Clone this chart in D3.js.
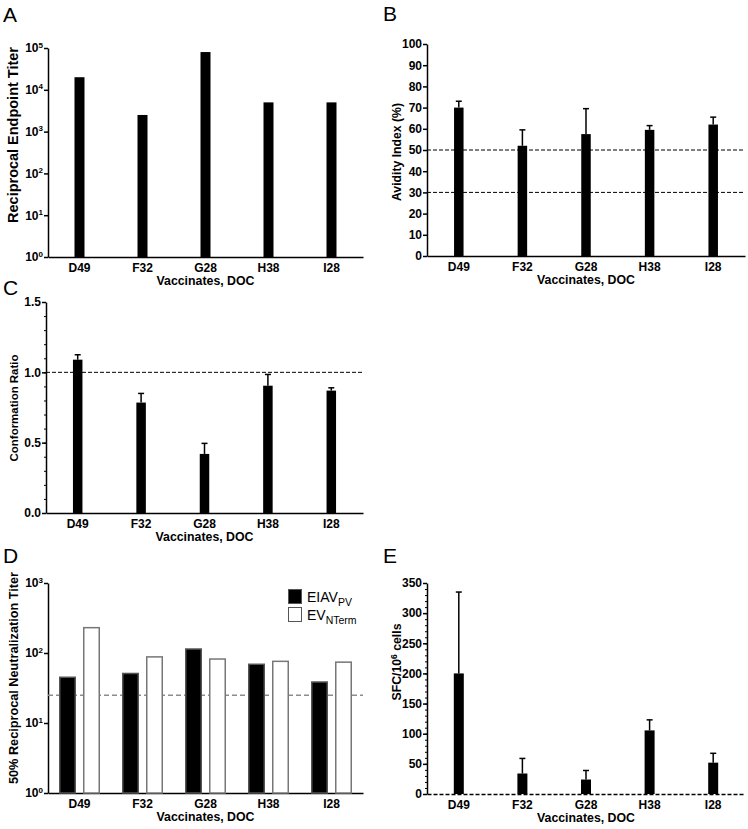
<!DOCTYPE html>
<meta charset="utf-8">
<style>
body { margin: 0; background: #fff; }
svg text { font-family: "Liberation Sans", Arial, sans-serif; fill: #000; }
.axis text { font-size: 12px; font-weight: bold; }
.axis path, .axis line { stroke: #000; stroke-width: 1.5px; }
.title { font-size: 12px; font-weight: bold; text-anchor: middle; }
.letter { font-size: 21px; }
</style>
<body>
<script src="https://d3js.org/d3.v7.min.js"></script>
<script>
// categories
var vaccinates = ["D49", "F32", "G28", "H38", "I28"];

// A: reciprocal endpoint titer
var endpointTiter = [20000, 2500, 80000, 5000, 5000];
var titerTicksA = [1, 10, 100, 1000, 10000, 100000];

// B: avidity index (%) mean and error
var avidity = [70, 52, 57.5, 59.5, 62];
var avidityErr = [3, 7.5, 12, 2, 3.5];
var avidityTicks = [0, 10, 20, 30, 40, 50, 60, 70, 80, 90, 100];
var avidityLines = [50, 30];

// C: conformation ratio
var conformation = [1.09, 0.785, 0.42, 0.905, 0.87];
var conformationErr = [0.035, 0.065, 0.075, 0.08, 0.02];
var conformationTicks = [0, 0.5, 1.0, 1.5];
var conformationLine = [1.0];

// D: 50% neutralization titer
var neutEIAV = [45, 51, 114, 69, 38.5];
var neutEVNTerm = [230, 88, 82, 76, 74];
var neutTicks = [1, 10, 100, 1000];
var neutCutoff = 25;

// E: SFC per 10^6 cells
var sfc = [200, 34, 24, 105.5, 52];
var sfcErr = [135, 25, 15, 17.5, 15.5];
var sfcTicks = [0, 50, 100, 150, 200, 250, 300, 350];

var svg = d3.select("body").append("svg")
    .attr("width", 748)
    .attr("height", 829);

// draw "10^n" labels on log axes
function powerLabels(g) {
  g.selectAll(".tick text").each(function(d) {
    var t = d3.select(this).text("");
    t.append("tspan").text("10");
    t.append("tspan")
      .attr("dy", "-0.6em")
      .style("font-size", "8px")
      .text(Math.round(Math.log10(d)));
  });
}

// scale a text's font so it spans about the given length
function fitText(t, len) {
  var l = t.node().getComputedTextLength();
  if (l > 0) t.style("font-size", (12 * len / l).toFixed(2) + "px");
}

function panel(o) {
  var g = svg.append("g");
  var x = d3.scaleBand().domain(vaccinates).range([o.x0, o.x1]);
  var y = o.log ? d3.scaleLog().domain(o.domain).range([o.yb, o.yt])
                : d3.scaleLinear().domain(o.domain).range([o.yb, o.yt]);

  // minor ticks first
  if (o.minor) {
    g.append("g").attr("class", "axis")
      .attr("transform", "translate(" + o.x0 + ",0)")
      .call(d3.axisLeft(y).tickValues(o.minor).tickSize(2).tickSizeOuter(0).tickFormat(""))
      .call(function(a) { a.select(".domain").remove(); a.selectAll("line").style("stroke-width", "1px"); });
  }

  // y axis
  var ya = g.append("g").attr("class", "axis")
    .attr("transform", "translate(" + o.x0 + ",0)")
    .call(d3.axisLeft(y).tickValues(o.ticks).tickSize(4).tickSizeOuter(0).tickPadding(1)
      .tickFormat(o.fmt || null));
  if (o.log) ya.call(powerLabels);

  // x axis
  var xa = g.append("g").attr("class", "axis")
    .attr("transform", "translate(0," + o.yb + ")")
    .call(d3.axisBottom(x).tickSize(0).tickSizeOuter(0).tickPadding(6.5));
  if (o.dashedBase) xa.select(".domain").style("stroke-dasharray", "4,2");

  // reference lines
  (o.refLines || []).forEach(function(v) {
    g.append("line")
      .attr("x1", o.x0).attr("x2", o.x1)
      .attr("y1", y(v)).attr("y2", y(v))
      .style("stroke", o.refColor || "#000")
      .style("stroke-width", o.refWidth || 1)
      .style("stroke-dasharray", o.refDash || "4,2");
  });

  // bars
  o.series.forEach(function(s) {
    g.selectAll(null).data(s.values).enter().append("rect")
      .attr("x", function(d, i) { return x(vaccinates[i]) + x.bandwidth() / 2 + s.offset - s.w / 2; })
      .attr("y", function(d) { return y(d); })
      .attr("width", s.w)
      .attr("height", function(d) { return y(o.domain[0]) - y(d); })
      .style("fill", s.fill)
      .style("stroke", s.stroke || "none")
      .style("stroke-width", s.stroke ? 1.5 : 0);

    if (s.err) {
      var eb = g.selectAll(null).data(s.values).enter().append("g");
      eb.append("line")
        .attr("x1", function(d, i) { return x(vaccinates[i]) + x.bandwidth() / 2; })
        .attr("x2", function(d, i) { return x(vaccinates[i]) + x.bandwidth() / 2; })
        .attr("y1", function(d) { return y(d); })
        .attr("y2", function(d, i) { return y(d + s.err[i]); })
        .style("stroke", "#000").style("stroke-width", 1.5);
      eb.append("line")
        .attr("x1", function(d, i) { return x(vaccinates[i]) + x.bandwidth() / 2 - 3; })
        .attr("x2", function(d, i) { return x(vaccinates[i]) + x.bandwidth() / 2 + 3; })
        .attr("y1", function(d, i) { return y(d + s.err[i]); })
        .attr("y2", function(d, i) { return y(d + s.err[i]); })
        .style("stroke", "#000").style("stroke-width", 1.5);
    }
  });

  // titles
  var xt = g.append("text").attr("class", "title")
    .attr("x", (o.x0 + o.x1) / 2).attr("y", o.yb + 28)
    .text("Vaccinates, DOC");
  fitText(xt, 98);
  var yt = g.append("text").attr("class", "title")
    .attr("transform", "translate(" + o.ytx + "," + o.ytc + ") rotate(-90)");
  o.ytitle(yt);
  fitText(yt, o.ytLen);

  svg.append("text").attr("class", "letter")
    .attr("x", o.lx).attr("y", o.ly).text(o.letter);
  return { x: x, y: y };
}

function plain(str) { return function(t) { t.text(str); }; }

// A
panel({
  letter: "A", lx: 3, ly: 22,
  x0: 48, x1: 363, yt: 48, yb: 257, log: true, domain: [1, 100000],
  ticks: titerTicksA,
  series: [{ values: endpointTiter, w: 10, offset: 0, fill: "#000" }],
  ytx: 18, ytc: 135, ytLen: 176, ytitle: plain("Reciprocal Endpoint Titer")
});

// B
panel({
  letter: "B", lx: 383, ly: 21,
  x0: 427, x1: 745, yt: 44, yb: 256, domain: [0, 100],
  ticks: avidityTicks, refLines: avidityLines,
  series: [{ values: avidity, err: avidityErr, w: 9.5, offset: 0, fill: "#000" }],
  ytx: 401, ytc: 152, ytLen: 98, ytitle: plain("Avidity Index (%)")
});

// C
panel({
  letter: "C", lx: 3, ly: 295,
  x0: 46, x1: 363, yt: 302, yb: 513, domain: [0, 1.5],
  ticks: conformationTicks, fmt: d3.format(".1f"),
  minor: d3.range(0, 16).map(function(i) { return i / 10; }),
  refLines: conformationLine,
  series: [{ values: conformation, err: conformationErr, w: 9.5, offset: 0, fill: "#000" }],
  ytx: 18, ytc: 408, ytLen: 107, ytitle: plain("Conformation Ratio")
});

// D
panel({
  letter: "D", lx: 3, ly: 563,
  x0: 48, x1: 363, yt: 583, yb: 793, log: true, domain: [1, 1000],
  ticks: neutTicks,
  refLines: [neutCutoff], refColor: "#8c8c8c", refWidth: 1.5, refDash: "5,3",
  series: [
    { values: neutEIAV, w: 15.5, offset: -12, fill: "#000", stroke: "#555" },
    { values: neutEVNTerm, w: 15.5, offset: 12, fill: "#fff", stroke: "#777" }
  ],
  ytx: 18, ytc: 678, ytLen: 212, ytitle: plain("50% Reciprocal Neutralization Titer")
});

// D legend
var legendItems = [
  { main: "EIAV", sub: "PV", fill: "#000" },
  { main: "EV", sub: "NTerm", fill: "#fff" }
];
legendItems.forEach(function(it, i) {
  var ly = 589.5 + i * 18;
  svg.append("rect").attr("x", 288.5).attr("y", ly).attr("width", 13).attr("height", 14)
    .style("fill", it.fill).style("stroke", "#555").style("stroke-width", 1);
  var t = svg.append("text").attr("x", 307).attr("y", ly + 12).style("font-size", "14px");
  t.append("tspan").text(it.main);
  t.append("tspan").attr("dy", "4").style("font-size", "10.5px").text(it.sub);
});

// E
panel({
  letter: "E", lx: 383, ly: 563,
  x0: 427, x1: 745, yt: 583, yb: 794, domain: [0, 350],
  ticks: sfcTicks,
  minor: d3.range(0, 36).map(function(i) { return i * 10; }),
  dashedBase: true,
  series: [{ values: sfc, err: sfcErr, w: 10, offset: 0, fill: "#000" }],
  ytx: 401, ytc: 662, ytLen: 77,
  ytitle: function(t) {
    t.append("tspan").text("SFC/10");
    t.append("tspan").attr("dy", "-0.5em").style("font-size", "0.7em").text("6");
    t.append("tspan").attr("dy", "0.35em").text(" cells");
  }
});
</script>
</body>
